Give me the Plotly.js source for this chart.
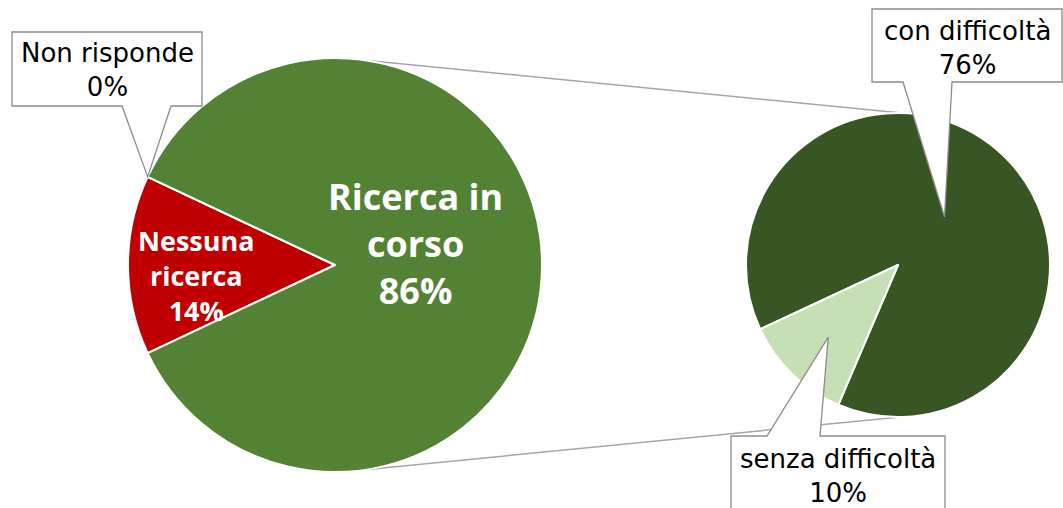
<!DOCTYPE html>
<html><head><meta charset="utf-8">
<script src="https://cdn.plot.ly/plotly-3.0.1.min.js"></script>
<style>html,body{margin:0;padding:0;background:#fff}</style>
</head><body><div id="chart" style="width:1063px;height:508px"></div>
<script>
// ---- data ----
const mainLabels = ['Nessuna ricerca', 'Non risponde', 'Ricerca in corso'];
const mainLines  = ['Nessuna<br>ricerca', 'Non risponde', 'Ricerca in<br>corso'];
const mainValues = [14, 0, 86];
const mainColors = ['#C00000', '#7F7F7F', '#548235'];
const subLabels  = ['con difficoltà', 'senza difficoltà'];
const subValues  = [76, 10];
const subColors  = ['#375623', '#C5E0B4'];

// ---- geometry (pixels) ----
const W = 1063, H = 508;
const L = {cx: 335, cy: 265, r: 207, rot: 244.8};
const R = {cx: 898, cy: 265, r: 152, rot: 245};
const X = px => px / W, Y = py => 1 - py / H;
function dom(p) { return {x: [X(p.cx - p.r), X(p.cx + p.r)], y: [Y(p.cy + p.r), Y(p.cy - p.r)]}; }
function pt(p, ang, f) { const a = ang * Math.PI / 180; return [p.cx + f * p.r * Math.sin(a), p.cy - f * p.r * Math.cos(a)]; }
const sum = a => a.reduce((s, v) => s + v, 0);
function boundary(p, vals, k) { return p.rot + 360 * sum(vals.slice(0, k)) / sum(vals); }
function mid(p, vals, k) { return (boundary(p, vals, k) + boundary(p, vals, k + 1)) / 2; }
function path(pts) { return 'M' + pts.map(q => X(q[0]).toFixed(5) + ',' + Y(q[1]).toFixed(5)).join('L') + 'Z'; }

const traces = [
  {type: 'pie', labels: mainLabels, values: mainValues, sort: false, direction: 'clockwise',
   rotation: L.rot, domain: dom(L), textinfo: 'none', hoverinfo: 'label+value',
   marker: {colors: mainColors, line: {color: '#FFFFFF', width: 2}}, showlegend: false},
  {type: 'pie', labels: subLabels, values: subValues, sort: false, direction: 'clockwise',
   rotation: R.rot, domain: dom(R), textinfo: 'none', hoverinfo: 'label+value',
   marker: {colors: subColors, line: {color: '#FFFFFF', width: 2}}, showlegend: false}
];

// connectors
const cA = pt(L, 9, 1), cB = pt(R, 1.5, 1), cC = pt(L, 171, 1), cD = pt(R, 179, 1);
const conn = {type: 'line', xref: 'paper', yref: 'paper', layer: 'below', line: {color: '#A6A6A6', width: 1.5}};

// callout tips
const tipNon = pt(L, boundary(L, mainValues, 2), 1);
const tipCon = pt(R, mid(R, subValues, 0), 0.44);
const tipSen = pt(R, mid(R, subValues, 1), 0.66);
const box = {type: 'path', xref: 'paper', yref: 'paper', layer: 'above', fillcolor: '#FFFFFF', line: {color: '#8C8C8C', width: 1.3}};

const shapes = [
  Object.assign({}, conn, {x0: X(cA[0]), y0: Y(cA[1]), x1: X(cB[0]), y1: Y(cB[1])}),
  Object.assign({}, conn, {x0: X(cC[0]), y0: Y(cC[1]), x1: X(cD[0]), y1: Y(cD[1])}),
  Object.assign({}, box, {path: path([[12, 32], [202, 32], [202, 106], [171, 106], tipNon, [122, 106], [12, 106]])}),
  Object.assign({}, box, {path: path([[872, 9], [1062, 9], [1062, 82], [952, 82], tipCon, [903, 82], [872, 82]])}),
  Object.assign({}, box, {path: path([[731, 436], [767, 436], tipSen, [820, 436], [945, 436], [945, 530], [731, 530]])})
];

const callFont = {family: 'DejaVu Sans', size: 26, color: '#000000'};
const inFont = {family: 'Open Sans', size: 36, color: '#FFFFFF', weight: 700};
function ann(px, py, text, font) {
  return {xref: 'paper', yref: 'paper', x: X(px), y: Y(py), xanchor: 'center', yanchor: 'middle',
          text: text, showarrow: false, font: font, align: 'center'};
}
const annotations = [
  ann(415, 243, '<b>' + mainLines[2] + '<br>' + mainValues[2] + '%</b>', inFont),
  ann(196, 275, '<b>' + mainLines[0] + '<br>' + mainValues[0] + '%</b>', Object.assign({}, inFont, {size: 27})),
  ann(107, 70, mainLines[1] + '<br>' + mainValues[1] + '%', callFont),
  ann(967, 48, subLabels[0] + '<br>' + subValues[0] + '%', callFont),
  ann(838, 476, subLabels[1] + '<br>' + subValues[1] + '%', callFont)
];

const layout = {width: W, height: H, margin: {l: 0, r: 0, t: 0, b: 0},
  paper_bgcolor: '#FFFFFF', plot_bgcolor: '#FFFFFF', showlegend: false,
  shapes: shapes, annotations: annotations};
Plotly.newPlot('chart', traces, layout, {displayModeBar: false, staticPlot: true});
</script></body></html>
